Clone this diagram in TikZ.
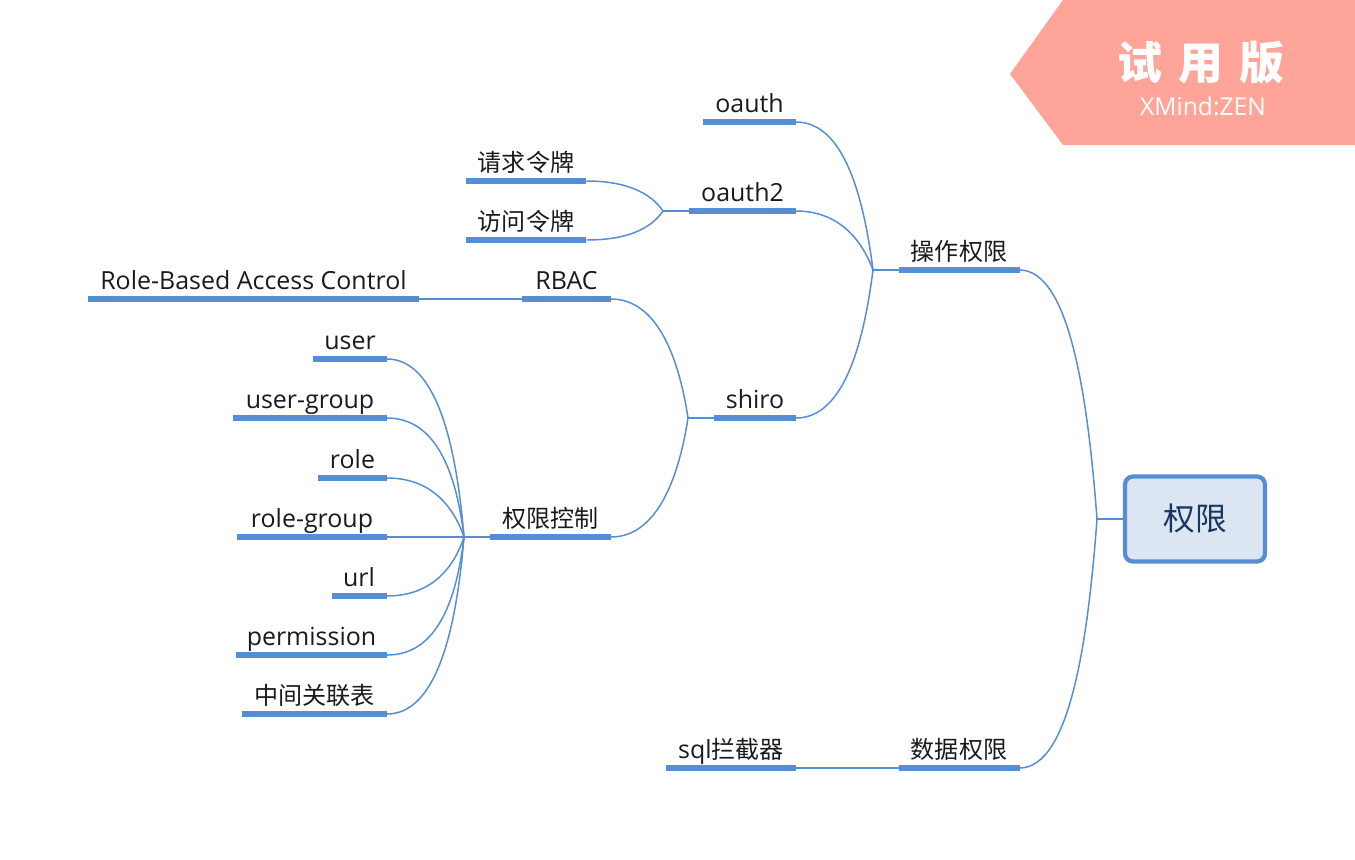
\documentclass[tikz,border=0pt]{standalone}
\usepackage{fontspec}
\setmainfont{Open Sans}
\newfontfamily\cjk[Scale=0.965]{Noto Sans CJK SC}
\usetikzlibrary{arrows}
\definecolor{linkblue}{HTML}{558ED5}
\definecolor{rootfill}{HTML}{DCE6F2}
\definecolor{rootink}{HTML}{17375E}
\definecolor{badgered}{HTML}{FFA498}
\definecolor{topicink}{HTML}{1A1A1A}
\tikzset{
  topic/.style={anchor=south,inner sep=0pt,outer sep=0pt,text=topicink,text depth=5.2pt,
    font=\fontsize{14.2}{16}\selectfont,
    append after command={(\tikzlastnode.south west) edge[bar] (\tikzlastnode.south east)}},
  bar/.style={draw=linkblue,line width=2.9pt},
  link/.style={draw=linkblue,line width=0.85pt},
  root/.style={draw=linkblue,line width=2.4pt,fill=rootfill,rounded corners=.16cm,text=rootink,
    minimum width=2.8cm,minimum height=1.7cm,font=\fontsize{18.7}{22}\selectfont\cjk}
}
\begin{document}
\begin{tikzpicture}[x=0.02cm,y=-0.02cm]
  \useasboundingbox (0,0) rectangle (1355,859);
  % badge
  \fill[badgered] (1063,0) -- (1355,0) -- (1355,145) -- (1063,145) -- (1010,74) -- cycle;
  \node[text=white,font=\fontsize{26.5}{30}\selectfont\bfseries\cjk](trial)at(1201,63){试\hspace{0.36em}用\hspace{0.36em}版};
  \node[text=white,font=\fontsize{14}{16}\selectfont](brand)at(1203,106){XMind:ZEN};

  % topics
  \node[root](quanxian)at(1195,519){权限};
  \node[topic,minimum width=2.42cm](caozuo)at(959,270){\cjk 操作权限};
  \node[topic,minimum width=2.42cm](shuju)at(959,768){\cjk 数据权限};
  \node[topic,minimum width=2.6cm](sql)at(731,768){sql{\cjk 拦截器}};
  \node[topic,minimum width=1.86cm](oauth)at(749.5,122){oauth};
  \node[topic,minimum width=2.14cm](oauthtwo)at(742.5,211){oauth2};
  \node[topic,minimum width=1.64cm](shiro)at(755,418){shiro};
  \node[topic,minimum width=2.42cm](qingqiu)at(526,181){\cjk 请求令牌};
  \node[topic,minimum width=2.42cm](fangwen)at(526,240){\cjk 访问令牌};
  \node[topic,minimum width=1.78cm](rbac)at(566.5,299){RBAC};
  \node[topic,minimum width=6.62cm](rolebased)at(253.5,299){Role-Based Access Control};
  \node[topic,minimum width=2.42cm](kongzhi)at(550.5,537){\cjk 权限控制};
  \node[topic,minimum width=1.48cm](user)at(350,359){user};
  \node[topic,minimum width=3.08cm](usergroup)at(310,418){user-group};
  \node[topic,minimum width=1.38cm](role)at(352.5,478){role};
  \node[topic,minimum width=3cm](rolegroup)at(312,537){role-group};
  \node[topic,minimum width=1.1cm](url)at(359,596){url};
  \node[topic,minimum width=3.02cm](permission)at(311.5,655){permission};
  \node[topic,minimum width=2.9cm](guanlian)at(314.5,714){\cjk 中间关联表};

  % junctions
  \coordinate (jroot) at (1097,519);
  \coordinate (jcaozuo) at (873,270);
  \coordinate (joauth) at (663,211);
  \coordinate (jshiro) at (688,418);
  \coordinate (jkongzhi) at (464,537);

  \draw[link] (quanxian.west) -- (jroot);
  \draw[link] (caozuo.south east) .. controls (1070,270) and (1088,400) .. (jroot);
  \draw[link] (shuju.south east) .. controls (1070,768) and (1088,640) .. (jroot);

  \draw[link] (caozuo.south west) -- (jcaozuo);
  \draw[link] (oauth.south east) .. controls (845,122) and (864,200) .. (jcaozuo);
  \draw[link] (oauthtwo.south east) .. controls (835,211) and (860,235) .. (jcaozuo);
  \draw[link] (shiro.south east) .. controls (845,418) and (864,340) .. (jcaozuo);

  \draw[link] (oauthtwo.south west) -- (joauth);
  \draw[link] (qingqiu.south east) .. controls (625,181) and (650,192) .. (joauth);
  \draw[link] (fangwen.south east) .. controls (625,240) and (650,230) .. (joauth);

  \draw[link] (shiro.south west) -- (jshiro);
  \draw[link] (rbac.south east) .. controls (660,299) and (680,365) .. (jshiro);
  \draw[link] (kongzhi.south east) .. controls (660,537) and (680,470) .. (jshiro);
  \draw[link] (rbac.south west) -- (rolebased.south east);

  \draw[link] (kongzhi.south west) -- (jkongzhi);
  \draw[link] (user.south east) .. controls (435,359) and (456,440) .. (jkongzhi);
  \draw[link] (usergroup.south east) .. controls (435,418) and (456,470) .. (jkongzhi);
  \draw[link] (role.south east) .. controls (430,478) and (453,505) .. (jkongzhi);
  \draw[link] (rolegroup.south east) -- (jkongzhi);
  \draw[link] (url.south east) .. controls (430,596) and (453,570) .. (jkongzhi);
  \draw[link] (permission.south east) .. controls (435,655) and (456,605) .. (jkongzhi);
  \draw[link] (guanlian.south east) .. controls (435,714) and (456,635) .. (jkongzhi);

  \draw[link] (shuju.south west) -- (sql.south east);
\end{tikzpicture}
\end{document}
